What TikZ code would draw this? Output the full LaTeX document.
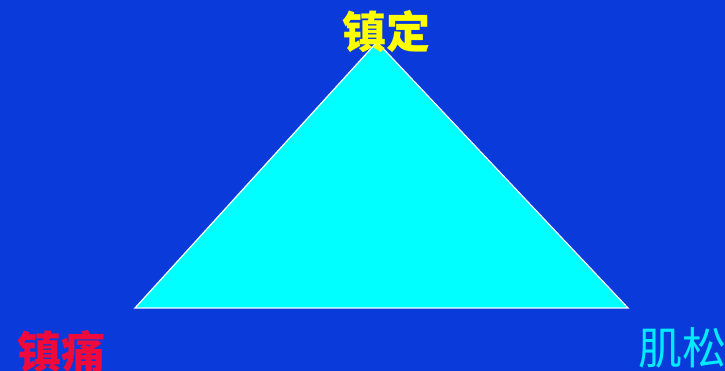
\documentclass[tikz,border=0pt]{standalone}
\usepackage{fontspec}
\newfontfamily\cjk{Noto Sans CJK SC}
\definecolor{bg}{RGB}{10,58,218}
\definecolor{tri}{RGB}{0,255,255}
\definecolor{lblY}{RGB}{255,255,0}
\definecolor{lblR}{RGB}{240,10,60}
\definecolor{lblC}{RGB}{0,235,255}
\tikzset{lbl/.style={inner sep=0pt,font=\cjk\fontsize{44}{44}\selectfont}}
\begin{document}
\begin{tikzpicture}[x=1pt,y=1pt]
\fill[bg] (0,0) rectangle (725,371);
\useasboundingbox (0,0) rectangle (725,371);
\coordinate (A) at (377,329);
\coordinate (B) at (135,63);
\coordinate (C) at (628,63);
\filldraw[fill=tri,draw=white,line width=1.2pt,line join=miter] (A) -- (B) -- (C) -- cycle;
\node[lbl,text=lblY,font=\cjk\bfseries\fontsize{44}{44}\selectfont] (top) at (386,339) {镇定};
\node[lbl,text=lblR,font=\cjk\bfseries\fontsize{44}{44}\selectfont] (left) at (61,19) {镇痛};
\node[lbl,text=lblC] (right) at (682,23) {肌松};
\end{tikzpicture}
\end{document}
